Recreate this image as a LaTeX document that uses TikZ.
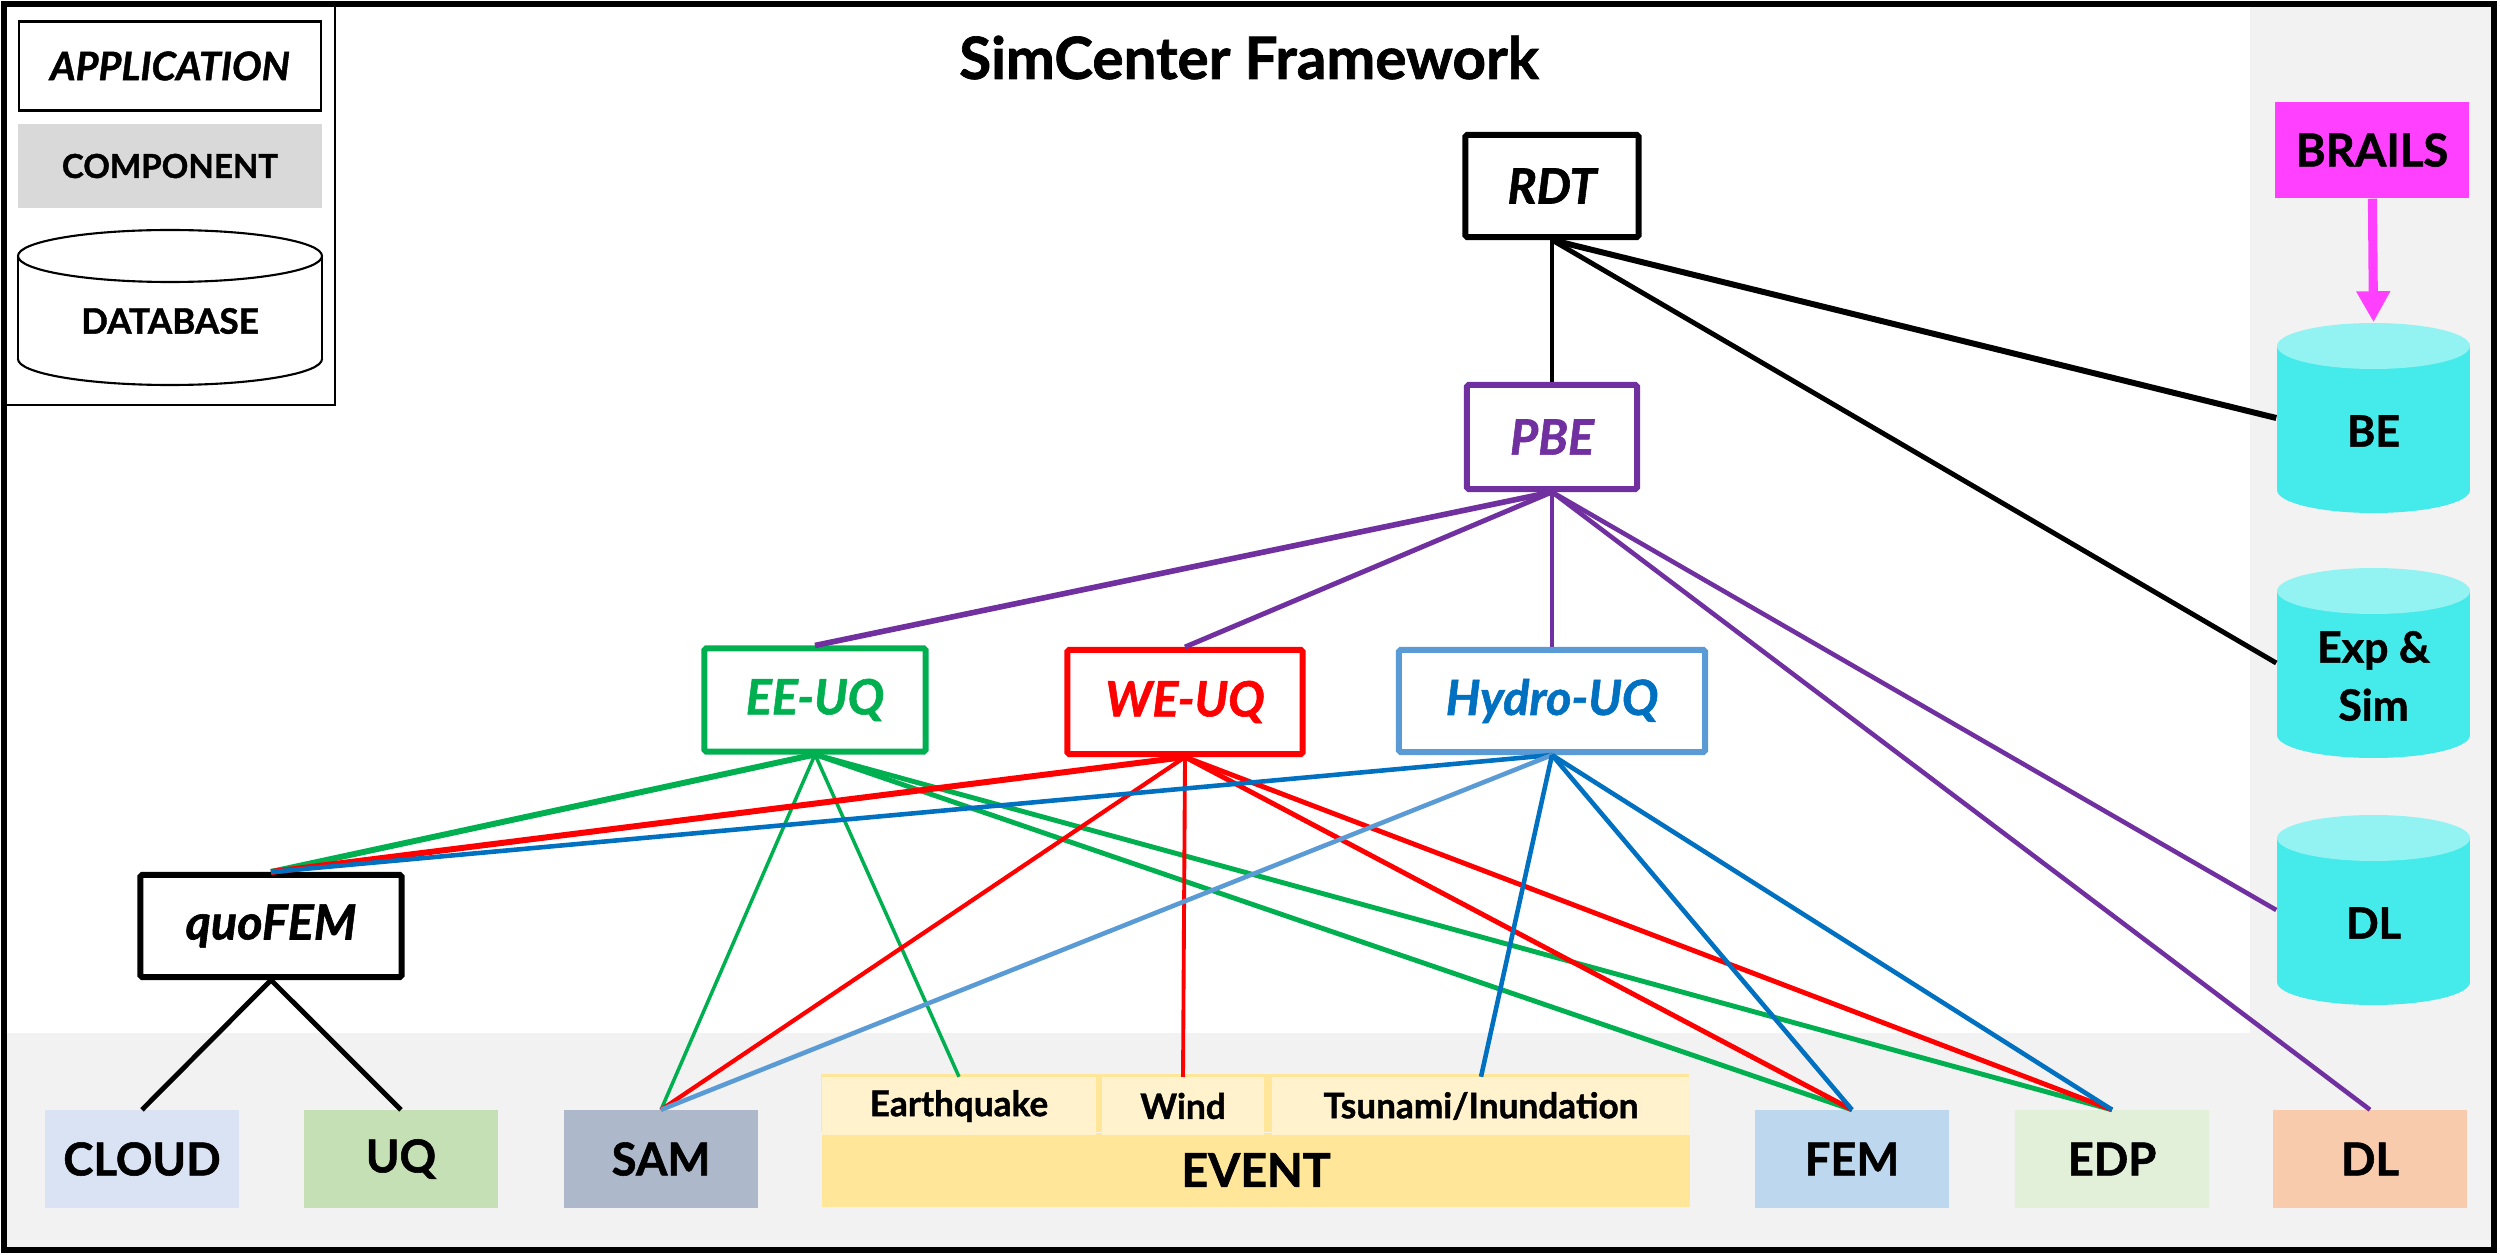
\documentclass[tikz,border=0pt]{standalone}
\usepackage{fontspec}
\setmainfont{Lato}[BoldFeatures={FakeBold=1.2}, BoldItalicFeatures={FakeBold=1.2}]
\usetikzlibrary{arrows.meta,positioning}
\definecolor{SimGreen}{HTML}{00B050}
\definecolor{SimRed}{HTML}{FF0000}
\definecolor{SimPurple}{HTML}{7030A0}
\definecolor{SimSky}{HTML}{5B9BD5}
\definecolor{SimBlue}{HTML}{0070C0}
\definecolor{SimPanel}{HTML}{F2F2F2}
\definecolor{SimGray}{HTML}{D9D9D9}
\definecolor{SimPink}{HTML}{FF40FF}
\definecolor{SimCyan}{HTML}{45EAEA}
\definecolor{SimCyanTop}{HTML}{93F2F2}
\definecolor{CloudFill}{HTML}{DAE3F3}
\definecolor{UqFill}{HTML}{C5E0B4}
\definecolor{SamFill}{HTML}{ADB9CA}
\definecolor{EventFill}{HTML}{FFE699}
\definecolor{HazardFill}{HTML}{FFF2CC}
\definecolor{FemFill}{HTML}{BDD7EE}
\definecolor{EdpFill}{HTML}{E2F0D9}
\definecolor{DlFill}{HTML}{F8CBAD}

\begin{document}
\begin{tikzpicture}[x=0.01cm, y=-0.01cm,
  app/.style={draw, line width=1.7pt, rounded corners=0.5pt, inner sep=0pt, font=\fontsize{13.8}{16}\selectfont\bfseries\itshape},
  comp/.style={inner sep=0pt, minimum width=1.93cm, minimum height=0.97cm, font=\fontsize{12.9}{15}\selectfont\bfseries},
  hazard/.style={fill=HazardFill, inner sep=0pt, minimum height=0.57cm, font=\fontsize{10}{12}\selectfont\bfseries},
  dbase/.style={inner sep=0pt, minimum width=1.93cm, minimum height=1.9cm},
  dblabel/.style={align=center, yshift=-0.13cm, font=\fontsize{12.2}{16.5}\selectfont\bfseries},
  wire/.style={line width=1.4pt}]
\useasboundingbox (0,0) rectangle (2500,1255);
\fill[white] (0,0) rectangle (2500,1255);

% Grey panels and frame
\fill[SimPanel] (2250,5) rectangle (2493,1249);
\fill[SimPanel] (5,1033) rectangle (2493,1249);
\draw[line width=1.6pt] (4,4) rectangle (2494,1250);

% Legend
\draw[line width=0.8pt] (4,4) rectangle (335,405);
\node[draw, line width=0.6pt, inner sep=0pt, minimum width=3.02cm, minimum height=0.89cm, font=\fontsize{11.2}{13}\selectfont\bfseries\itshape] (legapp) at (170,66) {APPLICATION};
\node[fill=SimGray, inner sep=0pt, minimum width=3.03cm, minimum height=0.84cm, font=\fontsize{9.4}{11}\selectfont\bfseries] (legcomp) at (170,166) {COMPONENT};
\filldraw[fill=white, line width=0.6pt] (170,359) ellipse [x radius=152, y radius=26];
\fill[white] (18,256) rectangle (322,359);
\draw[line width=0.6pt] (18,256) -- (18,359) (322,256) -- (322,359);
\filldraw[fill=white, line width=0.6pt] (170,256) ellipse [x radius=152, y radius=26];
\node[font=\fontsize{10}{12}\selectfont\bfseries] (legdb) at (170,321) {DATABASE};

% Title
\node[anchor=base, inner sep=0pt, font=\fontsize{16.6}{19}\selectfont\bfseries] (title) at (1249,79) {SimCenter Framework};

% Applications
\node[app, minimum width=1.73cm, minimum height=1.02cm] (rdt) at (1552,186) {RDT};
\node[app, draw=SimPurple, text=SimPurple, minimum width=1.70cm, minimum height=1.04cm] (pbe) at (1552,437) {PBE};
\node[app, draw=SimGreen, text=SimGreen, minimum width=2.21cm, minimum height=1.03cm] (eeuq) at (815,700) {EE-UQ};
\node[app, draw=SimRed, text=SimRed, minimum width=2.35cm, minimum height=1.04cm] (weuq) at (1185,702) {WE-UQ};
\node[app, draw=SimSky, text=SimBlue, minimum width=3.06cm, minimum height=1.02cm] (hydro) at (1552,701) {Hydro-UQ};
\node[app, minimum width=2.61cm, minimum height=1.02cm] (quofem) at (271,926) {quoFEM};

% Databases
\node[comp, fill=SimPink, minimum height=0.96cm] (brails) at (2372,150) {BRAILS};
\foreach \name/\cy/\txt in {be/418/BE, expsim/663/{Exp \&\\Sim}, dbdl/910/DL} {
  \fill[SimCyan] (2277,\cy-72) rectangle (2470,\cy+72);
  \fill[SimCyan] (2373.5,\cy+72) ellipse [x radius=96.5, y radius=23];
  \fill[SimCyanTop] (2373.5,\cy-72) ellipse [x radius=96.5, y radius=23];
  \node[dbase, label={[dblabel]center:{\txt}}] (\name) at (2373.5,\cy) {};
}
\draw[-{Triangle[length=0.31cm, width=0.32cm]}, SimPink, line width=2.6pt] (brails) -- (be.north);

% Components
\foreach \name/\cx/\col/\txt in {cloud/142/CloudFill/CLOUD, uq/401/UqFill/UQ, sam/661/SamFill/SAM, fem/1852/FemFill/FEM, edp/2112/EdpFill/EDP, dl/2370/DlFill/DL}
  \node[comp, fill=\col] (\name) at (\cx,1159) {\txt};
\node[comp, fill=EventFill, minimum width=8.68cm, minimum height=0.74cm, font=\fontsize{13.2}{15}\selectfont\bfseries] (event) at (1256,1170) {EVENT};
\fill[EventFill] (event.north west) rectangle ++(868,-58);
\node[hazard, minimum width=2.74cm] (eq) at (959,1106) {Earthquake};
\node[hazard, minimum width=1.62cm] (wind) at (1183,1106) {Wind};
\node[hazard, minimum width=4.18cm] (tsu) at (1481,1106) {Tsunami/Inundation};

% Connectors
\draw[line width=1.2pt] (rdt.south) -- (pbe.north);
\draw[line width=1.7pt] (rdt.south) -- (be.west);
\draw[wire] (rdt.south) -- (expsim.west);
\foreach \t/\w in {eeuq.north/1.6pt, weuq.north/1.4pt, hydro.north/1.1pt, dbdl.west/1.3pt, dl.north/1.3pt}
  \draw[SimPurple, line width=\w] (pbe.south) -- (\t);
\foreach \t/\w in {quofem.north/1.7pt, sam.north/1pt, eq.north/1pt, fem.north/1.4pt, edp.north/1.4pt}
  \draw[SimGreen, line width=\w] (eeuq.south) -- (\t);
\foreach \t/\w in {quofem.north/1.7pt, sam.north/1.2pt, wind.north/1.1pt, fem.north/1.4pt, edp.north/1.4pt}
  \draw[SimRed, line width=\w] (weuq.south) -- (\t);
\foreach \t/\col in {quofem.north/SimBlue, sam.north/SimSky, tsu.north/SimBlue, fem.north/SimBlue, edp.north/SimBlue}
  \draw[\col, line width=1.3pt] (hydro.south) -- (\t);
\draw[wire] (quofem.south) -- (cloud.north);
\draw[wire] (quofem.south) -- (uq.north);
\end{tikzpicture}
\end{document}
